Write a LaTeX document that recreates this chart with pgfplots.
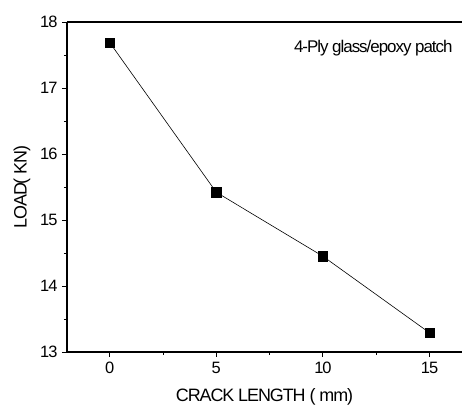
\documentclass[border=0pt]{standalone}
\usepackage{fontspec}
\setmainfont[LetterSpace=-6]{Liberation Sans}
\usepackage{pgfplots}
\pgfplotsset{compat=1.18}
\begin{document}
\begin{tikzpicture}
\begin{axis}[
  name=ax,
  scale only axis,
  width=395bp, height=330bp,
  xmin=-2, xmax=16.52,
  ymin=13, ymax=18,
  axis x line=box, axis y line*=left,
  xtick={0,5,10,15}, ytick={13,14,15,16,17,18},
  minor xtick={2.5,7.5,12.5},
  minor ytick={13.5,14.5,15.5,16.5,17.5},
  xtick pos=lower, ytick pos=left,
  tick align=outside,
  major tick length=5bp, minor tick length=3bp,
  every tick/.style={black, line width=0.9pt},
  axis line style={black, line width=1.1pt},
  /pgf/number format/assume math mode=true,
  ticklabel style={font=\fontsize{16.5}{18}\selectfont},
  xticklabel style={yshift=-2bp},
  yticklabel style={xshift=-1bp},
  xlabel={CRACK LENGTH ( mm)},
  ylabel={LOAD( KN)},
  every axis x label/.style={at={(axis description cs:0.5,-0.136)}, anchor=center, font=\fontsize{18}{20}\selectfont},
  every axis y label/.style={at={(axis description cs:-0.114,0.5)}, anchor=center, rotate=90, font=\fontsize{18}{20}\selectfont},
  clip=false,
]
\addplot[black, line width=0.6pt, mark=square*, mark size=4.6bp, mark options={solid, fill=black}]
coordinates {(0,17.69) (5,15.42) (10,14.45) (15,13.29)};
\node[anchor=center, font=\fontsize{17}{19}\selectfont] at (axis cs:12.36,17.6) {4-Ply glass/epoxy patch};
\end{axis}
\pgfresetboundingbox
\path ([xshift=-67bp,yshift=-56bp]ax.south west) rectangle ([yshift=22bp]ax.north east);
\end{tikzpicture}
\end{document}
